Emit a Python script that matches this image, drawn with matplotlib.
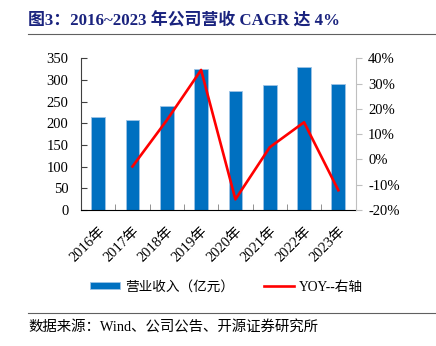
#!/usr/bin/env python3
"""Revenue bars with YOY line on a secondary axis."""
import numpy as np
import matplotlib
matplotlib.use('Agg')
import matplotlib.pyplot as plt
from matplotlib.lines import Line2D
from matplotlib.patches import Patch

plt.rcParams['font.family'] = ['Liberation Serif', 'Noto Sans CJK SC']

years = ['2016年', '2017年', '2018年', '2019年', '2020年', '2021年', '2022年', '2023年']
revenue = [214.5, 208.5, 240.8, 326.2, 274.6, 287.7, 330.0, 290.0]
yoy = [np.nan, -2.8, 15.5, 35.4, -15.8, 4.8, 14.7, -12.2]

W, H = 436, 346
fig = plt.figure(figsize=(W / 100, H / 100), dpi=100)
ax = fig.add_axes([81 / W, 1 - 210 / H, (355.5 - 81) / W, (210 - 58.3) / H])
ax2 = ax.twinx()

x = np.arange(len(years))
ax.bar(x, revenue, width=0.4, color='#0070C0', edgecolor='#9DC3E6', linewidth=0.6, zorder=2)
ax2.plot(x, yoy, color='#FF0000', linewidth=1.9, zorder=3)

ax.set_xlim(-0.5, len(years) - 0.5)
ax.set_ylim(0, 350)
ax.set_yticks(np.arange(0, 351, 50))
ax2.set_ylim(-20, 40)
ax2.set_yticks(np.arange(-20, 41, 10))
ax2.set_yticklabels([f'{v}%' for v in range(-20, 41, 10)])

ax.set_xticks(x)
ax.set_xticklabels(years, rotation=45, ha='right', rotation_mode='anchor', fontsize=10.5)
ax.set_xticks(np.arange(0.5, len(years) - 0.5, 1), minor=True)
ax.tick_params(axis='x', which='major', length=0, pad=10)
ax.tick_params(axis='x', which='minor', direction='in', length=4, color='#808080')
ax.tick_params(axis='y', direction='in', length=4, color='#404040', pad=9, labelsize=10.5)
ax2.tick_params(axis='y', direction='out', length=4, color='#BFBFBF', pad=5, labelsize=10.5)

for a in (ax, ax2):
    a.spines['top'].set_visible(False)
ax.spines['right'].set_visible(False)
ax.spines['left'].set_color('#404040')
ax.spines['bottom'].set_color('#000000')
ax2.spines['left'].set_visible(False)
ax2.spines['bottom'].set_visible(False)
ax2.spines['right'].set_color('#BFBFBF')

# title, rules and source
fig.text(28 / W, 1 - 21 / H, '图3：2016~2023 年公司营收 CAGR 达 4%', fontsize=12.2,
         fontweight='bold', color='#1A237E', va='center', ha='left')
fig.add_artist(Line2D([28 / W, 1], [1 - 34 / H] * 2, color='#606060', linewidth=0.8))
fig.add_artist(Line2D([28 / W, 1], [1 - 313 / H] * 2, color='#606060', linewidth=0.8))
fig.text(28 / W, 1 - 327 / H, '数据来源：Wind、公司公告、开源证券研究所', fontsize=10.4,
         va='center', ha='left')

handles = [Patch(facecolor='#0070C0', edgecolor='#9DC3E6', linewidth=0.6),
           Line2D([0], [0], color='#FF0000', linewidth=1.9)]
fig.legend(handles, ['营业收入（亿元）', 'YOY--右轴'], loc='center left',
           bbox_to_anchor=(78 / W, 1 - 287 / H), ncol=2, frameon=False, fontsize=9.8,
           handlelength=2.2, handleheight=0.45, columnspacing=2.2, handletextpad=0.35)

plt.savefig('out.png', dpi=100)
print("Generated out.png")
